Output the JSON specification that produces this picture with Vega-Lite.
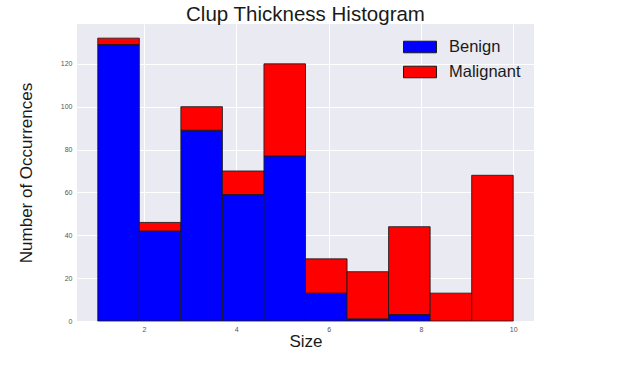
{
  "$schema": "https://vega.github.io/schema/vega-lite/v6.json",
  "width": 457,
  "height": 297,
  "autosize": {"type": "none"},
  "padding": {"left": 77, "top": 24, "right": 86, "bottom": 56},
  "background": "white",
  "title": {
    "text": "Clup Thickness Histogram",
    "fontSize": 20.5,
    "font": "Liberation Sans",
    "fontWeight": "normal",
    "color": "#1a1a1a",
    "anchor": "middle",
    "offset": -1
  },
  "data": {
    "values": [
      {"bin_start": 1.0, "bin_end": 1.9, "diagnosis": "Benign", "count": 129},
      {"bin_start": 1.0, "bin_end": 1.9, "diagnosis": "Malignant", "count": 3},
      {"bin_start": 1.9, "bin_end": 2.8, "diagnosis": "Benign", "count": 42},
      {"bin_start": 1.9, "bin_end": 2.8, "diagnosis": "Malignant", "count": 4},
      {"bin_start": 2.8, "bin_end": 3.7, "diagnosis": "Benign", "count": 89},
      {"bin_start": 2.8, "bin_end": 3.7, "diagnosis": "Malignant", "count": 11},
      {"bin_start": 3.7, "bin_end": 4.6, "diagnosis": "Benign", "count": 59},
      {"bin_start": 3.7, "bin_end": 4.6, "diagnosis": "Malignant", "count": 11},
      {"bin_start": 4.6, "bin_end": 5.5, "diagnosis": "Benign", "count": 77},
      {"bin_start": 4.6, "bin_end": 5.5, "diagnosis": "Malignant", "count": 43},
      {"bin_start": 5.5, "bin_end": 6.4, "diagnosis": "Benign", "count": 13},
      {"bin_start": 5.5, "bin_end": 6.4, "diagnosis": "Malignant", "count": 16},
      {"bin_start": 6.4, "bin_end": 7.3, "diagnosis": "Benign", "count": 1},
      {"bin_start": 6.4, "bin_end": 7.3, "diagnosis": "Malignant", "count": 22},
      {"bin_start": 7.3, "bin_end": 8.2, "diagnosis": "Benign", "count": 3},
      {"bin_start": 7.3, "bin_end": 8.2, "diagnosis": "Malignant", "count": 41},
      {"bin_start": 8.2, "bin_end": 9.1, "diagnosis": "Malignant", "count": 13},
      {"bin_start": 9.1, "bin_end": 10.0, "diagnosis": "Malignant", "count": 68}
    ]
  },
  "transform": [
    {
      "stack": "count",
      "groupby": ["bin_start"],
      "sort": [{"field": "diagnosis", "order": "ascending"}],
      "as": ["y_lo", "y_hi"]
    }
  ],
  "mark": {"type": "bar", "stroke": "#1a1a1a", "strokeWidth": 1, "strokeOpacity": 0.85},
  "encoding": {
    "x": {
      "field": "bin_start",
      "type": "quantitative",
      "scale": {"domain": [0.55, 10.45], "nice": false, "zero": false},
      "axis": {"values": [2, 4, 6, 8, 10], "title": "Size", "titlePadding": 1}
    },
    "x2": {"field": "bin_end"},
    "y": {
      "field": "y_lo",
      "type": "quantitative",
      "scale": {"domain": [0, 138.6], "nice": false},
      "axis": {"values": [0, 20, 40, 60, 80, 100, 120], "title": "Number of Occurrences", "titlePadding": 25, "labelPadding": 5}
    },
    "y2": {"field": "y_hi"},
    "color": {
      "field": "diagnosis",
      "type": "nominal",
      "scale": {"domain": ["Benign", "Malignant"], "range": ["#0000ff", "#ff0000"]},
      "legend": {
        "title": null,
        "orient": "none",
        "legendX": 334,
        "legendY": 14,
        "padding": 0,
        "symbolType": "M-2,-0.7H2V0.7H-2Z",
        "symbolSize": 272,
        "symbolStrokeColor": "#1a1a1a",
        "symbolStrokeWidth": 1,
        "symbolOpacity": 1,
        "labelOffset": 20,
        "labelFontSize": 16.5,
        "labelFont": "Liberation Sans",
        "labelColor": "#1a1a1a",
        "rowPadding": 7
      }
    }
  },
  "config": {
    "view": {"fill": "#eaeaf2", "stroke": null},
    "axis": {
      "domain": false,
      "ticks": false,
      "grid": true,
      "gridColor": "#ffffff",
      "gridWidth": 1,
      "gridOpacity": 1,
      "labelFontSize": 7,
      "labelFont": "Liberation Sans",
      "labelColor": "#555555",
      "labelPadding": 4,
      "titleFont": "Liberation Sans",
      "titleFontSize": 17,
      "titleFontWeight": "normal",
      "titleColor": "#1a1a1a"
    }
  }
}
